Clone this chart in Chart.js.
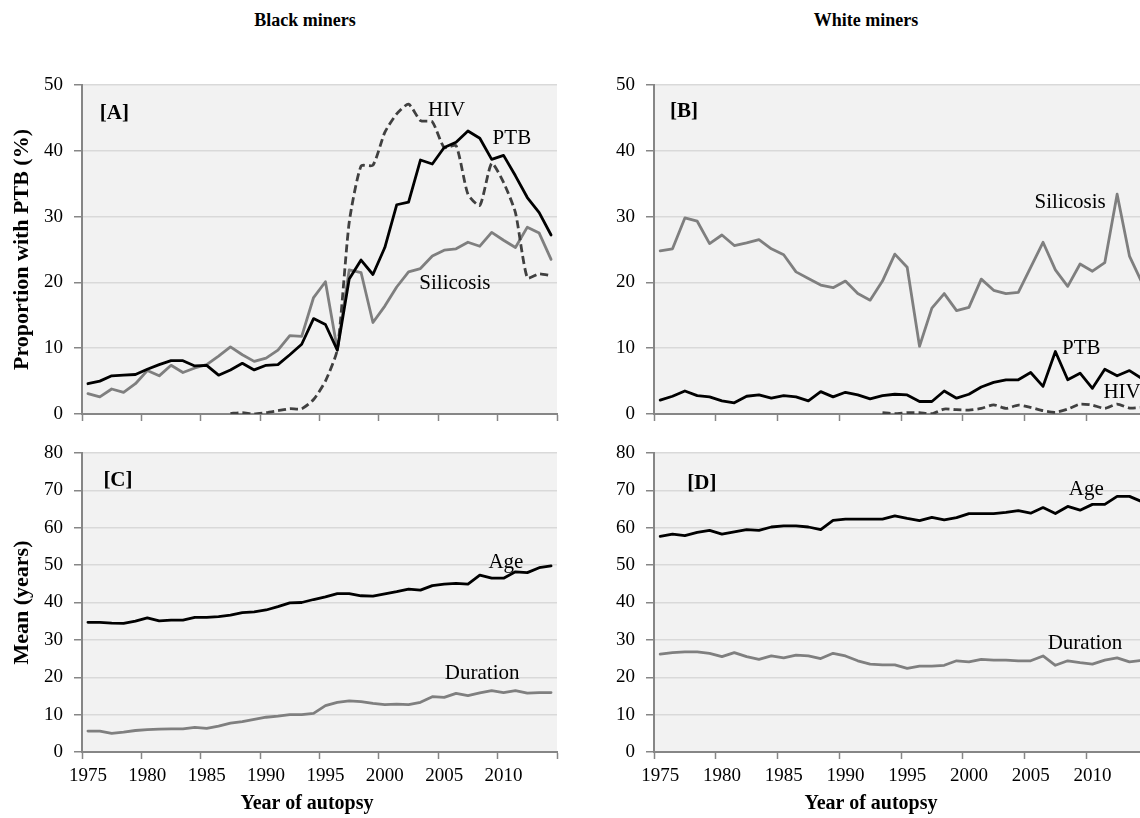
<!DOCTYPE html>
<html>
<head>
<meta charset="utf-8">
<script src="https://cdn.jsdelivr.net/npm/chart.js@4.4.1/dist/chart.umd.min.js"></script>
<style>
  html, body { margin: 0; padding: 0; background: #fff; }
  body { width: 1140px; height: 818px; overflow: hidden; position: relative; }
  .panel { position: absolute; }
  .head {
    position: absolute; transform: translateX(-50%); white-space: nowrap;
    font: bold 18px "Liberation Serif", "Times New Roman", serif; color: #000;
  }
  .xtitle { font-size: 20px; }
</style>
</head>
<body>
<div class="head" style="left:305px;top:10px">Black miners</div>
<div class="head" style="left:866px;top:10px">White miners</div>
<div class="panel" style="left:0;top:65px;width:565px;height:365px"><canvas id="chartA"></canvas></div>
<div class="panel" style="left:573px;top:65px;width:583px;height:365px"><canvas id="chartB"></canvas></div>
<div class="panel" style="left:0;top:432px;width:565px;height:386px"><canvas id="chartC"></canvas></div>
<div class="panel" style="left:573px;top:432px;width:583px;height:386px"><canvas id="chartD"></canvas></div>
<div class="head xtitle" style="left:307px;top:791px">Year of autopsy</div>
<div class="head xtitle" style="left:871px;top:791px">Year of autopsy</div>
<script>
// years of autopsy (categories) and the labels shown on the axis
const years = ['1975','1976','1977','1978','1979','1980','1981','1982','1983','1984',
               '1985','1986','1987','1988','1989','1990','1991','1992','1993','1994',
               '1995','1996','1997','1998','1999','2000','2001','2002','2003','2004',
               '2005','2006','2007','2008','2009','2010','2011','2012','2013','2014'];
const tickYears = ['1975','1980','1985','1990','1995','2000','2005','2010'];

// [A] Black miners, proportion (%)
const ptbBlack = [4.6, 5.0, 5.8, 5.9, 6.0, 6.8, 7.5, 8.1, 8.1, 7.3,
                  7.4, 5.9, 6.7, 7.7, 6.7, 7.4, 7.5, 9.0, 10.6, 14.5,
                  13.6, 9.7, 20.5, 23.4, 21.2, 25.3, 31.8, 32.2, 38.6, 38.0,
                  40.5, 41.3, 43.0, 41.9, 38.7, 39.3, 36.2, 32.9, 30.6, 27.2];
const silBlack = [3.1, 2.6, 3.8, 3.3, 4.6, 6.6, 5.8, 7.4, 6.3, 7.0,
                  7.5, 8.8, 10.2, 9.0, 8.0, 8.5, 9.7, 11.9, 11.8, 17.7,
                  20.1, 9.8, 21.9, 21.5, 13.9, 16.4, 19.3, 21.6, 22.1, 24.0,
                  24.9, 25.1, 26.1, 25.5, 27.6, 26.4, 25.3, 28.4, 27.5, 23.5];
const hivBlack = [null, null, null, null, null, null, null, null, null, null,
                  null, null, 0.1, 0.2, 0.0, 0.2, 0.5, 0.8, 0.8, 2.2,
                  5.0, 9.8, 29.1, 37.7, 37.8, 42.8, 45.6, 47.1, 44.6, 44.4,
                  40.5, 40.8, 33.4, 31.7, 38.1, 35.2, 30.6, 20.7, 21.3, 21.0];

// [B] White miners, proportion (%)
const silWhite = [24.8, 25.1, 29.8, 29.3, 25.9, 27.2, 25.6, 26.0, 26.5, 25.1,
                  24.2, 21.6, 20.6, 19.6, 19.2, 20.2, 18.3, 17.3, 20.2, 24.3,
                  22.3, 10.3, 16.1, 18.3, 15.7, 16.2, 20.5, 18.8, 18.3, 18.5,
                  22.3, 26.1, 21.9, 19.4, 22.8, 21.7, 23.0, 33.4, 24.0, 20.0];
const ptbWhite = [2.1, 2.7, 3.5, 2.8, 2.6, 2.0, 1.7, 2.7, 2.9, 2.4,
                  2.8, 2.6, 2.0, 3.4, 2.6, 3.3, 2.9, 2.3, 2.8, 3.0,
                  2.9, 1.9, 1.9, 3.5, 2.4, 3.0, 4.1, 4.8, 5.2, 5.2,
                  6.3, 4.2, 9.5, 5.2, 6.2, 3.9, 6.8, 5.8, 6.6, 5.4];
const hivWhite = [null, null, null, null, null, null, null, null, null, null,
                  null, null, null, null, null, null, null, null, 0.2, 0.05,
                  0.2, 0.2, 0.05, 0.75, 0.65, 0.6, 0.85, 1.4, 0.85, 1.35,
                  1.0, 0.5, 0.25, 0.75, 1.5, 1.35, 0.85, 1.5, 0.9, 1.0];

// [C] Black miners, mean (years)
const ageBlack = [34.7, 34.7, 34.5, 34.4, 35.0, 35.9, 35.1, 35.3, 35.3, 36.0,
                  36.0, 36.2, 36.6, 37.3, 37.5, 38.0, 38.9, 39.9, 40.0, 40.8,
                  41.5, 42.4, 42.4, 41.8, 41.7, 42.3, 42.9, 43.6, 43.3, 44.5,
                  44.9, 45.1, 44.9, 47.3, 46.5, 46.5, 48.2, 48.0, 49.3, 49.8];
const durBlack = [5.6, 5.6, 5.0, 5.3, 5.75, 6.0, 6.1, 6.2, 6.2, 6.6,
                  6.3, 6.9, 7.7, 8.1, 8.7, 9.3, 9.6, 10.0, 10.0, 10.35,
                  12.4, 13.3, 13.7, 13.5, 13.0, 12.65, 12.8, 12.65, 13.3, 14.8,
                  14.6, 15.7, 15.1, 15.8, 16.4, 15.9, 16.4, 15.75, 15.9, 15.9];

// [D] White miners, mean (years)
const ageWhite = [57.7, 58.3, 57.9, 58.75, 59.3, 58.3, 58.9, 59.5, 59.3, 60.2,
                  60.5, 60.5, 60.2, 59.5, 62.0, 62.3, 62.3, 62.3, 62.3, 63.2,
                  62.5, 61.9, 62.8, 62.1, 62.7, 63.8, 63.8, 63.8, 64.1, 64.6,
                  63.9, 65.4, 63.8, 65.7, 64.7, 66.25, 66.25, 68.4, 68.4, 67.0];
const durWhite = [26.2, 26.6, 26.8, 26.8, 26.4, 25.5, 26.6, 25.5, 24.8, 25.7,
                  25.2, 25.9, 25.7, 25.0, 26.4, 25.7, 24.4, 23.5, 23.3, 23.3,
                  22.4, 23.0, 23.0, 23.2, 24.4, 24.1, 24.8, 24.6, 24.6, 24.4,
                  24.4, 25.7, 23.2, 24.4, 23.9, 23.5, 24.6, 25.2, 24.1, 24.5];

const serif = '"Liberation Serif", "Times New Roman", serif';
const axisGray = '#868686';
const gridGray = '#d9d9d9';

// grey plot area like the original
const plotBg = {
    id: 'plotBg',
    beforeDraw(chart) {
        const {ctx, chartArea: a} = chart;
        ctx.save();
        ctx.fillStyle = '#f2f2f2';
        ctx.fillRect(a.left, a.top, a.right - a.left, a.bottom - a.top);
        ctx.restore();
    }
};

// text placed next to the lines, in data coordinates
const lineLabels = {
    id: 'lineLabels',
    afterDatasetsDraw(chart, args, opts) {
        const {ctx, scales: {x, y}} = chart;
        ctx.save();
        ctx.fillStyle = '#000';
        ctx.textBaseline = 'middle';
        (opts.items || []).forEach(it => {
            ctx.font = (it.bold ? 'bold ' : '') + (it.size || 21) + 'px ' + serif;
            ctx.textAlign = it.align || 'center';
            ctx.fillText(it.text, x.getPixelForValue(it.x), y.getPixelForValue(it.y));
        });
        ctx.restore();
    }
};

function solid(data, color) {
    return { data: data, borderColor: color, borderWidth: 2.8, borderJoinStyle: 'round', borderCapStyle: 'round', fill: false };
}
function dashed(data) {
    return { data: data, borderColor: '#404040', borderWidth: 2.8, borderDash: [8, 4], tension: 0.2, fill: false };
}

function makePanel(id, cfg) {
    return new Chart(document.getElementById(id), {
        type: 'line',
        data: { labels: years, datasets: cfg.datasets },
        options: {
            responsive: true,
            maintainAspectRatio: false,
            animation: false,
            layout: { padding: { top: cfg.padTop, right: 8, left: 0, bottom: 0 } },
            elements: { point: { radius: 0 } },
            plugins: {
                legend: { display: false },
                tooltip: { enabled: false },
                lineLabels: { items: cfg.labels }
            },
            scales: {
                x: {
                    type: 'category',
                    offset: true,
                    grid: {
                        offset: true,
                        drawOnChartArea: false,
                        tickLength: 7,
                        tickWidth: 1.5,
                        tickColor: c => (c.index === undefined || c.index % 5 === 0) ? axisGray : 'rgba(0,0,0,0)'
                    },
                    border: { color: axisGray, width: 2 },
                    ticks: {
                        autoSkip: false,
                        maxRotation: 0,
                        minRotation: 0,
                        padding: 6,
                        color: '#000',
                        font: { family: serif, size: 19 },
                        callback: function(v, i) {
                            return cfg.showYears && tickYears.includes(years[i]) ? years[i] : '';
                        }
                    },
                    afterFit: s => {
                        s.height = cfg.xHeight;
                        s.paddingLeft = 0;
                        s.paddingRight = 0;
                    }
                },
                y: {
                    min: 0,
                    max: cfg.yMax,
                    grid: {
                        color: c => (c.tick && c.tick.value === 0) ? 'rgba(0,0,0,0)' : gridGray,
                        lineWidth: 1.5,
                        tickLength: 8,
                        tickColor: axisGray,
                        tickWidth: 1.5
                    },
                    border: { color: axisGray, width: 2 },
                    ticks: {
                        stepSize: 10,
                        padding: 11,
                        color: '#000',
                        font: { family: serif, size: 19 }
                    },
                    title: {
                        display: !!cfg.yTitle,
                        text: cfg.yTitle || '',
                        color: '#000',
                        font: { family: serif, size: 22, weight: 'bold' },
                        padding: { top: 9, bottom: 0 }
                    },
                    afterFit: s => {
                        s.width = cfg.yWidth;
                        s.paddingTop = 0;
                        s.paddingBottom = 0;
                    }
                }
            }
        },
        plugins: [plotBg, lineLabels]
    });
}

makePanel('chartA', {
    datasets: [solid(ptbBlack, '#000'), dashed(hivBlack), solid(silBlack, '#7f7f7f')],
    yMax: 50, yWidth: 82, xHeight: 16, padTop: 20,
    yTitle: 'Proportion with PTB (%)',
    labels: [
        { text: '[A]', x: 1.0, y: 45.7, align: 'left', bold: true },
        { text: 'HIV', x: 30.2, y: 46.2 },
        { text: 'PTB', x: 35.7, y: 41.9 },
        { text: 'Silicosis', x: 30.9, y: 19.8 }
    ]
});

makePanel('chartB', {
    datasets: [solid(ptbWhite, '#000'), dashed(hivWhite), solid(silWhite, '#7f7f7f')],
    yMax: 50, yWidth: 81, xHeight: 16, padTop: 20,
    labels: [
        { text: '[B]', x: 0.8, y: 45.9, align: 'left', bold: true },
        { text: 'Silicosis', x: 33.2, y: 32.1 },
        { text: 'PTB', x: 34.1, y: 9.9 },
        { text: 'HIV', x: 37.4, y: 3.2 }
    ]
});

makePanel('chartC', {
    datasets: [solid(ageBlack, '#000'), solid(durBlack, '#7f7f7f')],
    yMax: 80, yWidth: 82, xHeight: 66, padTop: 21, showYears: true,
    yTitle: 'Mean (years)',
    labels: [
        { text: '[C]', x: 1.3, y: 72.7, align: 'left', bold: true },
        { text: 'Age', x: 35.2, y: 50.8 },
        { text: 'Duration', x: 33.2, y: 20.9 }
    ]
});

makePanel('chartD', {
    datasets: [solid(ageWhite, '#000'), solid(durWhite, '#7f7f7f')],
    yMax: 80, yWidth: 81, xHeight: 66, padTop: 21, showYears: true,
    labels: [
        { text: '[D]', x: 2.2, y: 71.9, align: 'left', bold: true },
        { text: 'Age', x: 34.5, y: 70.3 },
        { text: 'Duration', x: 34.4, y: 29.1 }
    ]
});
</script>
</body>
</html>
